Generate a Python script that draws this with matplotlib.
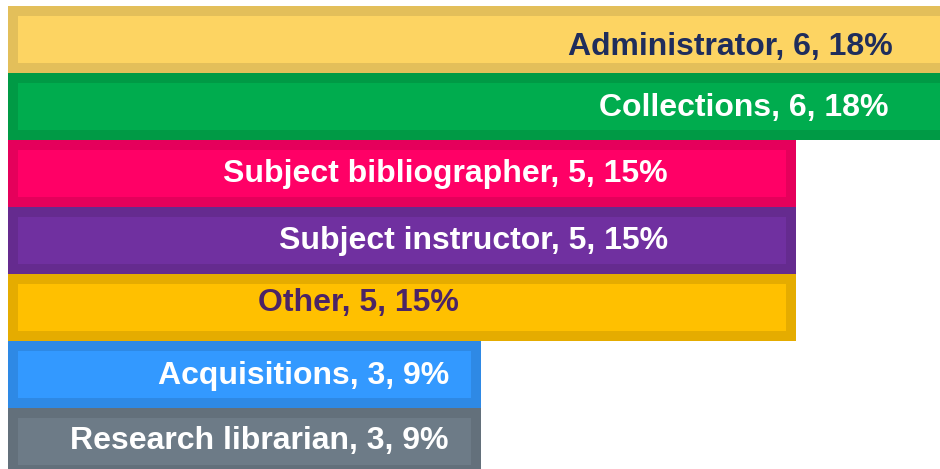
import matplotlib.pyplot as plt

# role counts, top to bottom
roles = ["Administrator", "Collections", "Subject bibliographer", "Subject instructor",
         "Other", "Acquisitions", "Research librarian"]
counts = [6, 6, 5, 5, 5, 3, 3]
percents = [18, 18, 15, 15, 15, 9, 9]

fill_colors = ["#FDD462", "#00AC4E", "#FF0066", "#7030A0", "#FFC000", "#3399FF", "#6D7B87"]
edge_colors = ["#E3BF5A", "#009A45", "#E5005B", "#652B8F", "#E5AC00", "#2E89E5", "#63707B"]
text_colors = ["#1F2D5C", "white", "white", "white", "#4B2466", "white", "white"]
# right edge of each label, in data units
label_right = [5.62, 5.59, 4.19, 4.19, 2.86, 2.80, 2.80]
label_dy = [0.11, 0.02, 0.01, 0.01, -0.06, 0.02, -0.01]

fig = plt.figure(figsize=(9.4, 4.69), dpi=100)
ax = fig.add_axes([0, 0, 1, 1])

ypos = list(range(len(roles)))
inset_x = 10 / 157.5
inset_y = 10 / 67
ax.barh(ypos, counts, height=1.0, color=edge_colors, linewidth=0)
ax.barh(ypos, [c - 2 * inset_x for c in counts], left=inset_x, height=1.0 - 2 * inset_y,
        color=fill_colors, linewidth=0)

for i in ypos:
    ax.text(label_right[i], i + label_dy[i], f"{roles[i]}, {counts[i]}, {percents[i]}%",
            ha="right", va="center", fontsize=23, fontweight="bold",
            family="Liberation Sans", color=text_colors[i])

ax.set_xlim(-8 / 157.5, 932 / 157.5)
ax.set_ylim(-0.5 + 463 / 67, -0.5 - 6 / 67)
ax.axis("off")

fig.savefig("out.png", dpi=100)
